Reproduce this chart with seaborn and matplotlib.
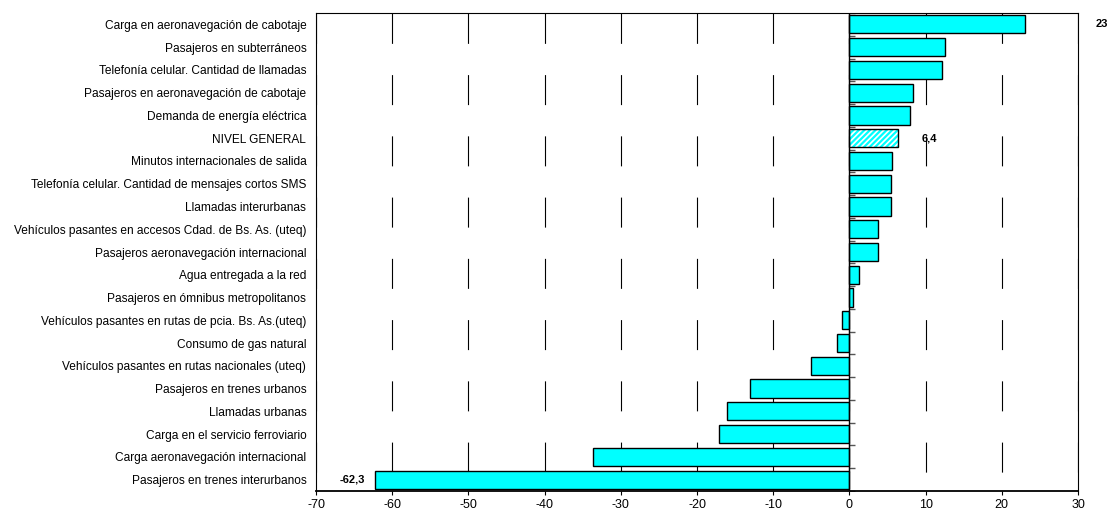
import matplotlib
matplotlib.use('Agg')
import matplotlib.pyplot as plt
import seaborn as sns
import pandas as pd

# Datos: variación porcentual por indicador
categorias = [
    'Carga en aeronavegación de cabotaje',
    'Pasajeros en subterráneos',
    'Telefonía celular. Cantidad de llamadas',
    'Pasajeros en aeronavegación de cabotaje',
    'Demanda de energía eléctrica',
    'NIVEL GENERAL',
    'Minutos internacionales de salida',
    'Telefonía celular. Cantidad de mensajes cortos SMS',
    'Llamadas interurbanas',
    'Vehículos pasantes en accesos Cdad. de Bs. As. (uteq)',
    'Pasajeros aeronavegación internacional',
    'Agua entregada a la red',
    'Pasajeros en ómnibus metropolitanos',
    'Vehículos pasantes en rutas de pcia. Bs. As.(uteq)',
    'Consumo de gas natural',
    'Vehículos pasantes en rutas nacionales (uteq)',
    'Pasajeros en trenes urbanos',
    'Llamadas urbanas',
    'Carga en el servicio ferroviario',
    'Carga aeronavegación internacional',
    'Pasajeros en trenes interurbanos',
]
variacion = [23.0, 12.5, 12.2, 8.3, 8.0, 6.4, 5.6, 5.5, 5.5, 3.8, 3.8,
             1.3, 0.5, -1.0, -1.6, -5.0, -13.1, -16.0, -17.1, -33.6, -62.3]

# etiquetas visibles: indicador -> (texto, desplazamiento en puntos)
etiquetas = {
    'Carga en aeronavegación de cabotaje': ('23', 51),
    'NIVEL GENERAL': ('6,4', 17),
    'Pasajeros en trenes interurbanos': ('-62,3', -7),
}
destacado = 'NIVEL GENERAL'

sns.set_theme(style='white')
plt.rcParams['font.family'] = ['Liberation Sans', 'DejaVu Sans']
plt.rcParams['lines.scale_dashes'] = False
plt.rcParams['hatch.linewidth'] = 1.6
plt.rcParams['axes.unicode_minus'] = False

df = pd.DataFrame({'indicador': categorias, 'var': variacion})

fig = plt.figure(figsize=(11.09, 5.17), dpi=100)
ax = fig.add_axes([316 / 1109, 1 - 491 / 517, (1078 - 316) / 1109, (491 - 13) / 517])

sns.barplot(data=df, x='var', y='indicador', orient='h', color='#00FFFF',
            saturation=1, edgecolor='black', linewidth=1, width=0.8,
            ax=ax, zorder=2)

# barra rayada para el nivel general
i = categorias.index(destacado)
p = ax.patches[i]
p.set_facecolor('white')
p.set_edgecolor('#00FFFF')
p.set_hatch('//////')
p.set_linewidth(0)
ax.barh(i, variacion[i], height=0.8, fill=False, edgecolor='black', lw=1, zorder=3)

# eje de categorías en x=0 con marcas entre categorías (detrás de las barras)
n = len(categorias)
ax.axvline(0, color='black', lw=1, zorder=4)
ax.plot([0] * (n + 1), [k - 0.5 for k in range(n + 1)], linestyle='none',
        marker=1, markersize=4, markeredgewidth=1, color='#555555', zorder=1.5)

# grilla vertical con trazos largos
ax.set_axisbelow(True)
ax.xaxis.grid(True, color='black', lw=0.8, linestyle=(30.5, (21.6, 22.5)))
ax.yaxis.grid(False)

ax.set_xlim(-70, 30)
ax.set_ylim(n - 0.5, -0.5)
ax.set_xticks(range(-70, 31, 10))
ax.set_xlabel('')
ax.set_ylabel('')
ax.tick_params(axis='x', bottom=True, length=3, width=0.8, labelsize=9,
               color='black', labelcolor='black', pad=3)
ax.tick_params(axis='y', left=False, length=0, labelsize=8.6,
               labelcolor='black', pad=7)

for s in ax.spines.values():
    s.set_visible(True)
    s.set_color('black')
    s.set_linewidth(0.8)
ax.spines['bottom'].set_linewidth(1.3)

for nombre, (txt, dx) in etiquetas.items():
    k = categorias.index(nombre)
    ax.annotate(txt, xy=(variacion[k], k), xytext=(dx, 0), textcoords='offset points',
                ha='left' if dx > 0 else 'right', va='center',
                fontsize=8, fontweight='bold', color='black', zorder=5)

fig.savefig('out.png', dpi=100)
